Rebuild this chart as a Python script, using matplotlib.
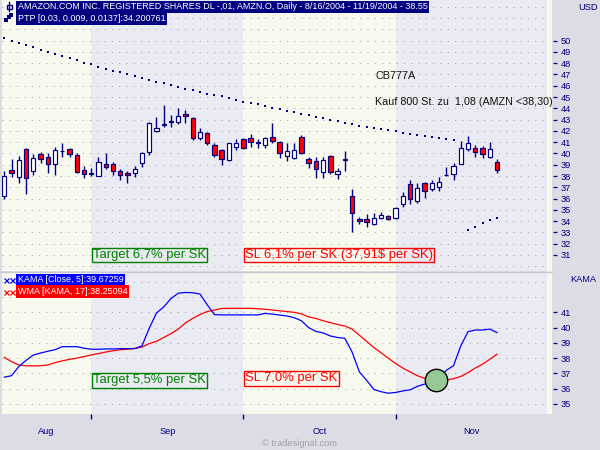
import numpy as np
import pandas as pd
import matplotlib
matplotlib.use("Agg")
import matplotlib.pyplot as plt
from matplotlib import font_manager
from matplotlib.patches import Rectangle
from matplotlib.lines import Line2D

# ---------------------------------------------------------------- data
# AMZN daily bars, 8/16/2004 - 11/19/2004
opens = [36.23, 38.50, 37.94, 40.40, 38.48, 39.92, 39.72, 39.04, 40.20, 40.37,
         39.86, 38.50, 38.22, 38.03, 39.07, 39.04, 38.45, 38.27, 38.24, 39.13,
         40.16, 42.02, 42.55, 42.80, 42.82, 43.47, 43.11, 41.34, 41.78, 40.75,
         40.31, 39.42, 40.54, 41.25, 41.34, 40.93, 40.75, 41.43, 41.02, 39.80,
         39.57, 41.49, 39.51, 39.33, 38.33, 39.78, 38.15, 39.45, 36.26, 34.19,
         34.16, 33.72, 34.25, 34.46, 34.25, 35.49, 37.26, 35.79, 37.35, 36.82,
         37.00, 38.06, 38.18, 39.07, 40.37, 40.51, 40.45, 39.72, 39.22]
highs = [38.48, 39.48, 39.78, 40.51, 39.95, 40.10, 40.07, 40.60, 40.90, 40.45,
         40.07, 38.89, 38.68, 39.66, 40.07, 39.27, 38.62, 38.48, 38.89, 40.16,
         42.82, 43.20, 44.30, 43.41, 44.00, 43.85, 43.26, 42.23, 41.87, 40.96,
         40.37, 40.96, 41.25, 41.34, 41.72, 41.28, 41.49, 42.73, 41.13, 40.90,
         40.90, 41.64, 39.66, 39.66, 39.66, 39.86, 38.68, 40.22, 36.82, 34.40,
         34.64, 34.69, 34.78, 34.55, 35.29, 36.61, 37.65, 37.35, 37.50, 37.65,
         37.89, 38.83, 39.13, 41.13, 41.58, 40.75, 40.66, 41.05, 39.51]
lows = [36.00, 37.94, 37.41, 36.38, 38.09, 39.13, 38.30, 38.09, 39.72, 39.66,
        38.24, 37.86, 38.00, 38.00, 38.65, 38.09, 37.65, 37.35, 37.94, 38.83,
        39.86, 41.87, 42.38, 42.38, 42.58, 42.73, 41.19, 41.19, 40.75, 39.66,
        38.98, 39.36, 40.31, 40.37, 40.60, 40.51, 40.45, 40.90, 39.63, 39.36,
        39.48, 39.95, 38.74, 37.86, 37.86, 38.18, 37.74, 38.48, 33.07, 33.75,
        33.51, 33.66, 34.19, 34.10, 34.16, 35.23, 35.52, 35.58, 36.02, 36.70,
        36.70, 38.00, 37.65, 39.07, 40.25, 39.72, 39.57, 39.63, 38.24]
closes = [38.00, 38.24, 39.42, 37.86, 39.57, 39.48, 39.04, 40.31, 40.22, 39.95,
          38.33, 38.18, 38.26, 39.21, 38.77, 38.48, 38.06, 38.09, 38.62, 40.01,
          42.67, 42.23, 42.60, 42.90, 43.32, 43.29, 41.40, 41.87, 40.90, 39.86,
          39.48, 40.90, 40.90, 40.45, 40.99, 40.97, 41.34, 41.13, 40.01, 40.22,
          40.31, 40.01, 39.13, 38.59, 39.42, 38.33, 38.45, 39.50, 34.69, 34.01,
          33.93, 34.25, 34.55, 34.19, 35.14, 36.26, 35.96, 36.91, 36.70, 37.35,
          37.44, 38.09, 38.89, 40.45, 40.96, 40.10, 39.95, 40.37, 38.55]

# PTP channel: upper trend line (bars 0-62) and lower line (bars 64-68)
ptp_upper = [50.20, 50.00, 49.80, 49.60, 49.40, 49.20, 49.00, 48.85, 48.65, 48.45,
             48.25, 48.05, 47.90, 47.70, 47.50, 47.35, 47.20, 47.00, 46.85, 46.70,
             46.50, 46.35, 46.20, 46.05, 45.90, 45.75, 45.60, 45.45, 45.30, 45.20,
             45.05, 44.90, 44.75, 44.60, 44.50, 44.35, 44.20, 44.05, 43.90, 43.80,
             43.65, 43.50, 43.40, 43.25, 43.10, 43.00, 42.85, 42.70, 42.60, 42.45,
             42.35, 42.25, 42.15, 42.05, 41.95, 41.85, 41.75, 41.65, 41.55, 41.45,
             41.35, 41.25, 41.15]
ptp_upper_start = 0
ptp_lower = [33.25, 33.52, 33.80, 34.08, 34.28]
ptp_lower_start = 64

# KAMA(Close, 5) and WMA(KAMA, 17)
kama = [36.75, 36.85, 37.45, 37.85, 38.20, 38.33, 38.45, 38.55, 38.75, 38.75,
        38.75, 38.65, 38.58, 38.58, 38.60, 38.60, 38.62, 38.62, 38.62, 38.80,
        39.95, 40.95, 41.35, 41.90, 42.25, 42.30, 42.28, 42.20, 41.50, 40.85,
        40.83, 40.83, 40.83, 40.83, 40.83, 40.83, 40.93, 40.88, 40.82, 40.76,
        40.65, 40.45, 40.00, 39.75, 39.65, 39.45, 39.35, 39.30, 38.40, 37.10,
        36.55, 35.95, 35.80, 35.70, 35.75, 35.85, 35.92, 36.15, 36.30, 36.45,
        36.65, 37.20, 37.50, 38.80, 39.73, 39.84, 39.84, 39.90, 39.67259]
wma = [38.05, 37.77, 37.55, 37.50, 37.49, 37.50, 37.55, 37.70, 37.82, 37.92,
       38.00, 38.10, 38.21, 38.30, 38.40, 38.48, 38.55, 38.58, 38.64, 38.72,
       38.95, 39.10, 39.35, 39.60, 39.90, 40.30, 40.60, 40.85, 41.05, 41.15,
       41.25, 41.26, 41.26, 41.26, 41.26, 41.23, 41.20, 41.15, 41.10, 41.05,
       41.00, 40.90, 40.70, 40.60, 40.45, 40.32, 40.20, 40.10, 39.90, 39.50,
       39.10, 38.70, 38.35, 38.00, 37.65, 37.35, 37.10, 36.85, 36.68, 36.60,
       36.57, 36.57, 36.65, 36.80, 37.05, 37.35, 37.60, 37.92, 38.25094]

# KAMA / WMA crossover marker
cross_pos = 59.6
cross_val = 36.55

price_ticks = list(range(31, 51))
kama_ticks = list(range(35, 42))

title_text = "AMAZON.COM INC. REGISTERED SHARES DL -,01, AMZN.O, Daily - 8/16/2004 - 11/19/2004 - 38.55"
ptp_text = "PTP [0.03, 0.009, 0.0137]:34.200761"
kama_text = "KAMA [Close, 5]:39.67259"
wma_text = "WMA [KAMA, 17]:38.25094"
note_code = "CB777A"
note_order = "Kauf 800 St. zu  1,08 (AMZN <38,30)"
target_top = "Target 6,7% per SK"
stop_top = "SL 6,1% per SK (37,91$ per SK)"
target_bottom = "Target 5,5% per SK"
stop_bottom = "SL 7,0% per SK"

# ---------------------------------------------------------------- style
NAVY = "#000080"
RED = "#FF0000"
BLUE = "#0000FF"
GREEN = "#008000"
YEL = "#F7F9EF"
LAV = "#EAEAF2"
FIGBG = "#DCDCE4"
GRID = "#A4A4AE"

plt.rcParams["font.family"] = ["Liberation Sans", "DejaVu Sans"]
_names = {f.name for f in font_manager.fontManager.ttflist}
if "Liberation Sans Narrow" in _names:
    NARROW, NSCALE = ["Liberation Sans Narrow", "DejaVu Sans"], 1.0
else:
    NARROW, NSCALE = ["Liberation Sans", "DejaVu Sans"], 0.82

W, H = 600, 450
fig = plt.figure(figsize=(6, 4.5), dpi=100, facecolor=FIGBG)


def px_box(x0, y0, x1, y1):
    return [x0 / W, 1 - y1 / H, (x1 - x0) / W, (y1 - y0) / H]


def ftext(x, y, s, **kw):
    return fig.text(x / W, 1 - y / H, s, **kw)


# trading calendar and month bands
dates = pd.bdate_range("2004-08-16", "2004-11-19")
dates = dates[dates != pd.Timestamp("2004-09-06")]
n = len(dates)
idx = np.arange(n)
month_starts = [i for i in range(1, n) if dates[i].month != dates[i - 1].month]
month_names = [d.strftime("%b") for d in [dates[0]] + [dates[i] for i in month_starts]]

x_lo, x_hi = -0.317, 74.9
edges = [x_lo] + month_starts + [x_hi]
band_cols = [YEL, LAV, YEL, LAV]


def base_axes(rect, ylim, grid_levels, ticks):
    ax = fig.add_axes(rect)
    ax.set_xlim(x_lo, x_hi)
    ax.set_ylim(*ylim)
    ax.set_facecolor(YEL)
    for k in range(len(edges) - 1):
        ax.axvspan(edges[k], edges[k + 1], color=band_cols[k], lw=0, zorder=0)
    for g in grid_levels:
        ax.axhline(g, color=GRID, lw=0.72, ls=(0, (1, 6.3)), zorder=1)
    for s in ("top", "left", "bottom"):
        ax.spines[s].set_visible(False)
    ax.spines["right"].set_color("none")
    ax.spines["right"].set_position(("outward", 4.3))
    ax.yaxis.tick_right()
    ax.set_yticks(ticks)
    ax.tick_params(axis="y", direction="out", length=3, width=0.9,
                   color=NAVY, labelcolor=NAVY, labelsize=6.7, pad=2.5)
    return ax


# ---------------------------------------------------------------- price panel
ax = base_axes(px_box(2, 0, 547, 271), (29.58, 53.6), range(30, 54), price_ticks)
ax.set_xticks([])

o = np.array(opens); c = np.array(closes)
ax.vlines(idx, lows, highs, color=NAVY, lw=1.0, zorder=3)
body_lo = np.minimum(o, c)
body_h = np.abs(c - o)
fills = np.where(c >= o, "white", RED)
ax.bar(idx, body_h, bottom=body_lo, width=0.6, color=fills,
       edgecolor=NAVY, linewidth=0.85, zorder=4)

ax.plot(np.arange(ptp_upper_start, ptp_upper_start + len(ptp_upper)), ptp_upper,
        ls="none", marker="s", ms=1.5, mew=0, color=NAVY, zorder=3)
ax.plot(np.arange(ptp_lower_start, ptp_lower_start + len(ptp_lower)), ptp_lower,
        ls="none", marker="s", ms=1.5, mew=0, color=NAVY, zorder=3)

# ---------------------------------------------------------------- KAMA panel
ax2 = base_axes(px_box(2, 272, 547, 414), (34.34, 43.64), range(35, 44), kama_ticks)
ax2.plot(idx, wma, color=RED, lw=0.9, zorder=3)
ax2.plot(idx, kama, color=BLUE, lw=0.9, zorder=3)
ax2.scatter([cross_pos], [cross_val], s=260, c="#96C896", edgecolors="black",
            linewidths=1.0, zorder=5)

ax2.set_xticks(month_starts)
ax2.tick_params(axis="x", which="major", direction="out", length=3.6, width=1.0,
                color=NAVY, labelbottom=False, pad=1)
centers = [(edges[k] + edges[k + 1]) / 2 for k in range(len(edges) - 1)]
ax2.set_xticks(centers, minor=True)
ax2.set_xticklabels(month_names, minor=True)
ax2.tick_params(axis="x", which="minor", length=0, labelcolor=NAVY,
                labelsize=6.7, pad=9)

# ---------------------------------------------------------------- frame pieces
fig.patches.append(Rectangle((547 / W, 1 - 414 / H), 5 / W, 414 / H,
                             transform=fig.transFigure, color="#F7F8EE", lw=0))
fig.lines.append(Line2D([0, 552 / W], [1 - 271.5 / H] * 2,
                        transform=fig.transFigure, color="#C8C8D2", lw=1))

# header rows
hdr = dict(family=NARROW, fontsize=7.9 * NSCALE, color="white", ha="left", va="center")
hbox = dict(boxstyle="square,pad=0.18", ec="none")
ftext(18, 6.8, title_text, bbox=dict(hbox, fc=NAVY), **hdr)
ftext(18, 18.6, ptp_text, bbox=dict(hbox, fc=NAVY), **hdr)
ftext(18, 279.8, kama_text, bbox=dict(hbox, fc=BLUE), **hdr)
ftext(18, 291.6, wma_text, bbox=dict(hbox, fc=RED), **hdr)

# header icons
fig.lines.append(Line2D([9 / W, 9 / W], [1 - 2 / H, 1 - 11 / H],
                        transform=fig.transFigure, color=NAVY, lw=1))
fig.patches.append(Rectangle((7 / W, 1 - 8.5 / H), 4.5 / W, 4 / H,
                             transform=fig.transFigure, fc="white", ec=NAVY, lw=1))
fig.lines.append(Line2D([6 / W, 9 / W, 11 / W], [1 - 20 / H, 1 - 17 / H, 1 - 15 / H],
                        transform=fig.transFigure, color=NAVY, lw=0, marker="s",
                        ms=2.6, mew=0))
for yy, col in ((279.8, BLUE), (291.6, RED)):
    fig.lines.append(Line2D([6 / W, 11.5 / W], [1 - yy / H] * 2,
                            transform=fig.transFigure, color=col, lw=0,
                            marker="x", ms=3.6, mew=0.9))

# annotations
ftext(375, 76.3, note_code, family=NARROW, fontsize=9.6 * NSCALE, color="#111111",
      ha="left", va="center")
ftext(375, 101.7, note_order, family=NARROW, fontsize=9.45 * NSCALE, color="#111111",
      ha="left", va="center")

tb = dict(family=NARROW, fontsize=11.4 * NSCALE, ha="left", va="center")
tbox = dict(boxstyle="square,pad=0.1", fc="none", lw=1)
ftext(93, 255.2, target_top, color=GREEN, bbox=dict(tbox, ec=GREEN), **tb)
ftext(245, 255.2, stop_top, color=RED, bbox=dict(tbox, ec=RED), **tb)
ftext(93, 380.5, target_bottom, color=GREEN, bbox=dict(tbox, ec=GREEN), **tb)
ftext(245, 378.5, stop_bottom, color=RED, bbox=dict(tbox, ec=RED), **tb)

# axis captions and credit
ftext(588, 7, "USD", fontsize=6.7, color=NAVY, ha="center", va="center")
ftext(583, 280, "KAMA", fontsize=6.7, color=NAVY, ha="center", va="center")
ftext(299, 443, "\u00a9 tradesignal.com", fontsize=6.7, color="#A0A0AA",
      ha="center", va="center")

fig.savefig("out.png", dpi=100, facecolor=FIGBG)
